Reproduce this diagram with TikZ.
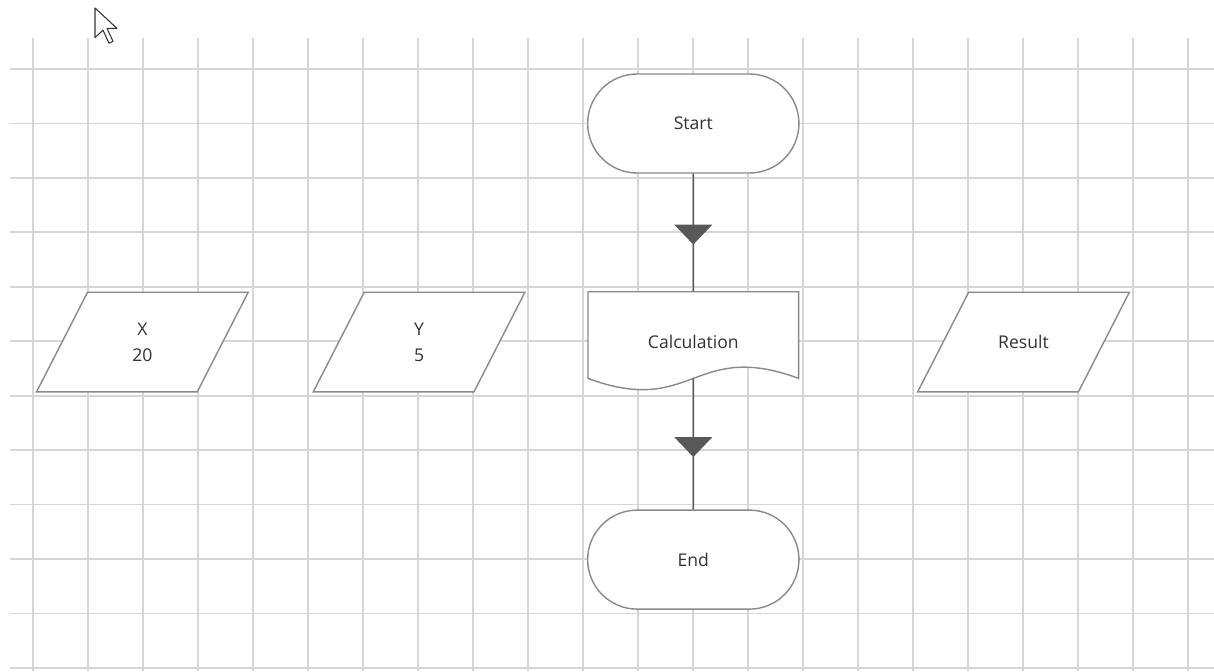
\documentclass[tikz,border=0pt]{standalone}
\usepackage{fontspec}
\setmainfont{Open Sans}
\usepackage{tikz}
\usetikzlibrary{positioning,shapes.misc,arrows.meta,decorations.markings}
\definecolor{gridgray}{RGB}{214,214,214}
\definecolor{shapegray}{RGB}{138,138,138}
\definecolor{flowgray}{RGB}{88,88,88}
\definecolor{textgray}{RGB}{50,50,50}
\pgfdeclarelayer{background}
\pgfsetlayers{background,main}

\begin{document}
\begin{tikzpicture}[%
    node distance=2.36cm,
    font=\fontsize{10}{14.7}\selectfont,
    text=textgray,
    gridline/.style={draw=gridgray, line width=1pt},
    terminal/.style={%
      rounded rectangle,
      minimum width=4.46cm,
      minimum height=1.98cm,
      draw=shapegray,
      line width=0.8pt,
      fill=white
    },
    inout/.style={rectangle, minimum width=3.2cm, minimum height=1.98cm, align=center},
    docbox/.style={rectangle, minimum width=4.2cm, minimum height=2cm},
    docline/.style={draw=shapegray, line width=0.8pt, fill=white},
    flow/.style={%
      draw=flowgray,
      line width=0.8pt,
      postaction={decorate},
      decoration={markings,
        mark=at position 0.6 with {\arrow{Triangle[width=0.76cm,length=0.4cm]}}}
    },
    pointer/.style={draw=black!80, line width=0.6pt, fill=white, line join=round}
  ]
    \useasboundingbox (0,0) rectangle (24.28,-13.42);
    \begin{pgfonlayer}{background}
      \fill[white] (0,0) rectangle (24.28,-13.42);
      \foreach \i in {0,...,21}
        \draw[gridline] ({0.666+1.1*\i},-0.76) -- ({0.666+1.1*\i},-13.42);
      \foreach \j in {0,...,11}
        \draw[gridline] (0.2,{-1.38-1.089*\j}) -- (24.28,{-1.38-1.089*\j});
    \end{pgfonlayer}

    \node[terminal] (start) at (13.866,-2.47)                 {Start};
    \node[docbox] (calc) [below=of start]                     {Calculation};
    \node[terminal] (stop) [node distance=2.34cm,below=of calc] {End};
    \node[inout] (y) [node distance=1.77cm,left=of calc]      {Y\\5};
    \node[inout] (x) [node distance=2.32cm,left=of y]         {X\\20};
    \node[inout] (result) [node distance=2.89cm,right=of calc] {Result};
    \coordinate (wave) at ([yshift=0.28cm]calc.south);

    \begin{pgfonlayer}{background}
      \draw[docline] (calc.north west) -- (calc.north east)
        -- ([yshift=0.28cm]calc.south east)
        .. controls ([yshift=1.06cm]calc.south) and ([yshift=-0.5cm]calc.south)
        .. ([yshift=0.28cm]calc.south west) -- cycle;
      \foreach \n in {x,y,result}
        \draw[docline] ([xshift=0.51cm]\n.north west) -- ([xshift=0.51cm]\n.north east)
          -- ([xshift=-0.51cm]\n.south east) -- ([xshift=-0.51cm]\n.south west) -- cycle;
    \end{pgfonlayer}

    \path (start) edge [flow] (calc)
          (wave)  edge [flow] (stop)
          ;

    \draw[pointer] (1.9,-0.16) -- (1.9,-0.752) -- (2.06,-0.604) -- (2.18,-0.864)
      -- (2.26,-0.826) -- (2.14,-0.568) -- (2.34,-0.568) -- cycle;
  \end{tikzpicture}
\end{document}
